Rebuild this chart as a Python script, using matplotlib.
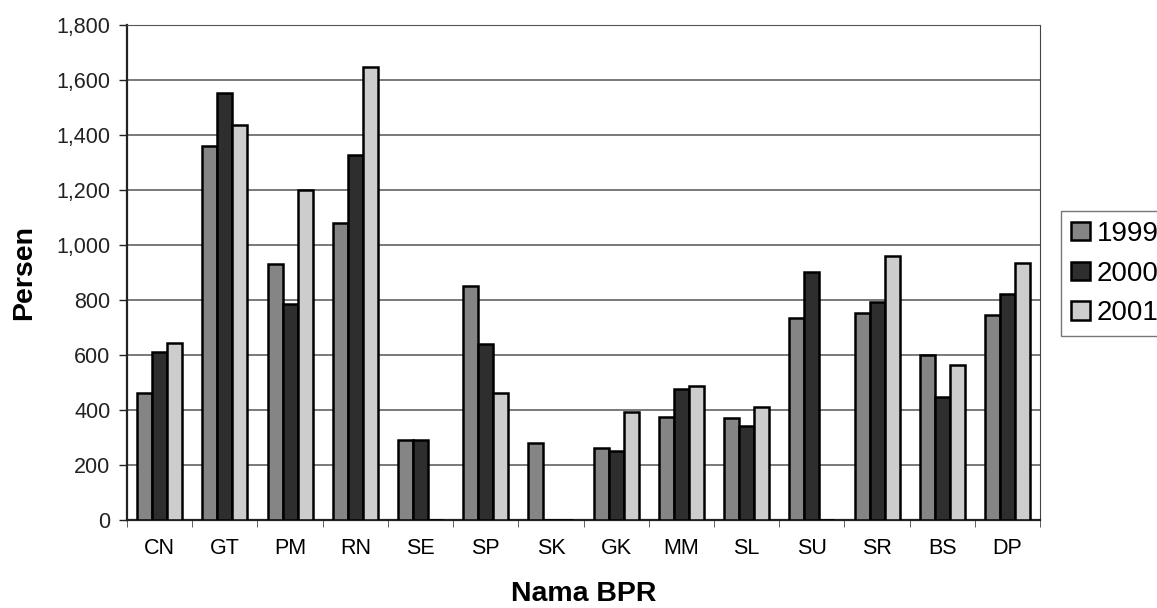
import numpy as np
import matplotlib.pyplot as plt
from matplotlib.ticker import FuncFormatter

plt.rcParams['font.family'] = ['Liberation Sans', 'DejaVu Sans']

# nama BPR dan nilai per tahun (persen)
bpr = ['CN', 'GT', 'PM', 'RN', 'SE', 'SP', 'SK', 'GK', 'MM', 'SL', 'SU', 'SR', 'BS', 'DP']
tahun = ['1999', '2000', '2001']
v1999 = [461, 1359, 930, 1079, 290, 850, 280, 262, 374, 370, 734, 752, 599, 745]
v2000 = [610, 1551, 785, 1329, 290, 639, 0, 251, 476, 341, 901, 792, 447, 821]
v2001 = [643, 1438, 1199, 1649, 0, 461, 0, 392, 487, 410, 0, 959, 563, 934]

warna = ['#858585', '#2e2e2e', '#cdcdcd']

fig = plt.figure(figsize=(11.57, 6.08), dpi=100)
ax = fig.add_axes([0.1098, 0.1447, 0.7892, 0.8142])

x = np.arange(len(bpr))
w = 0.23
for i, (vals, c, lab) in enumerate(zip([v1999, v2000, v2001], warna, tahun)):
    ax.bar(x + (i - 1) * w, vals, width=w, color=c, edgecolor='black',
           linewidth=1.8, label=lab, zorder=3)

ax.set_xlim(-0.5, len(bpr) - 0.5)
ax.set_ylim(0, 1800)
ax.set_yticks(np.arange(0, 1801, 200))
ax.yaxis.set_major_formatter(FuncFormatter(lambda v, p: f'{int(v):,}'))
ax.grid(axis='y', color='#555555', linewidth=1.1, zorder=0)

# tick kategori di batas antar kelompok, label di tengah
ax.set_xticks(x)
ax.set_xticklabels(bpr)
ax.set_xticks(np.arange(-0.5, len(bpr)), minor=True)
ax.tick_params(axis='x', which='major', length=0, pad=13, labelsize=15.5)
ax.tick_params(axis='x', which='minor', length=5, color='#444444')
ax.tick_params(axis='y', length=6, width=1, pad=6, labelsize=15.5, colors='#222222')

for s in ['left', 'bottom']:
    ax.spines[s].set_linewidth(1.6)
    ax.spines[s].set_color('#222222')
ax.spines['right'].set_color('#444444')
ax.spines['top'].set_color('#555555')

ax.set_ylabel('Persen', fontsize=20.5, fontweight='bold', labelpad=14)
ax.set_xlabel('Nama BPR', fontsize=20.5, fontweight='bold', labelpad=16)

leg = ax.legend(loc='upper left', bbox_to_anchor=(0.917, 0.653),
                bbox_transform=fig.transFigure, fontsize=20, frameon=True,
                fancybox=False, edgecolor='#555555', handlelength=0.7,
                handleheight=0.65, handletextpad=0.25, borderpad=0.35,
                labelspacing=0.5, borderaxespad=0)
leg.get_frame().set_linewidth(1.0)

fig.savefig('out.png', dpi=100)
